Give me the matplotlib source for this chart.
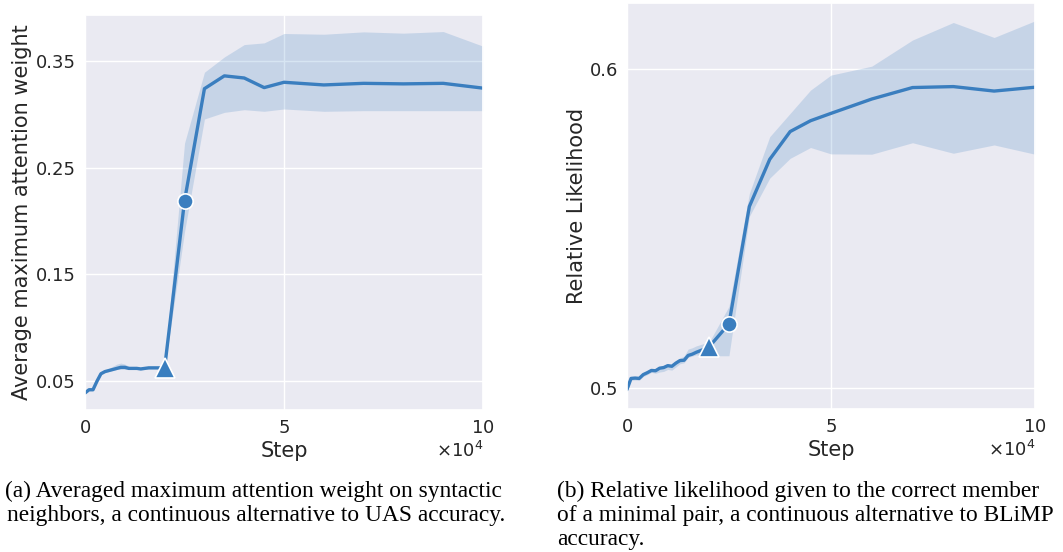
import matplotlib
matplotlib.use("Agg")
import matplotlib.pyplot as plt
import seaborn as sns

sns.set_theme(style="darkgrid")
plt.rcParams["font.family"] = ["DejaVu Sans"]

# training steps (shared by both panels)
steps = [0, 1000, 2000, 3000, 4000, 5000, 6000, 7000, 8000, 9000, 10000,
         11000, 12000, 13000, 14000, 15000, 16000, 17000, 18000, 19000, 20000,
         25000, 30000, 35000, 40000, 45000, 50000,
         60000, 70000, 80000, 90000, 100000]

# (a) average maximum attention weight
attn_mean = [0.039, 0.042, 0.042, 0.050, 0.057, 0.059, 0.060, 0.061, 0.062, 0.063, 0.063,
             0.062, 0.062, 0.062, 0.0615, 0.062, 0.0625, 0.0625, 0.0625, 0.0625, 0.0625,
             0.219, 0.324, 0.336, 0.334, 0.325, 0.330,
             0.3275, 0.329, 0.3285, 0.329, 0.3245]
attn_lo = [0.038, 0.041, 0.041, 0.049, 0.056, 0.058, 0.059, 0.060, 0.061, 0.061, 0.061,
           0.061, 0.061, 0.061, 0.0605, 0.061, 0.0615, 0.0615, 0.0615, 0.0615, 0.0615,
           0.190, 0.2956, 0.3018, 0.3043, 0.3028, 0.305,
           0.3028, 0.3034, 0.3034, 0.3034, 0.3034]
attn_hi = [0.040, 0.043, 0.043, 0.051, 0.058, 0.060, 0.062, 0.064, 0.066, 0.067, 0.066,
           0.064, 0.063, 0.063, 0.0625, 0.063, 0.0635, 0.0635, 0.0635, 0.0635, 0.0635,
           0.273, 0.3394, 0.3537, 0.3653, 0.3669, 0.3757,
           0.375, 0.3772, 0.376, 0.3775, 0.3638]

# (b) relative likelihood of the correct member of a minimal pair
rel_mean = [0.4995, 0.5030, 0.5031, 0.5030, 0.5042, 0.5048, 0.5055, 0.5054, 0.5062, 0.5064, 0.5070,
            0.5068, 0.5078, 0.5086, 0.5087, 0.5102, 0.5106, 0.5112, 0.5117, 0.5122, 0.5127,
            0.5201, 0.5569, 0.5717, 0.5804, 0.5838, 0.5861,
            0.5906, 0.5942, 0.5945, 0.5931, 0.5943]
rel_lo = [0.4990, 0.5024, 0.5025, 0.5024, 0.5036, 0.5042, 0.5049, 0.5046, 0.5050, 0.5052, 0.5058,
          0.5056, 0.5066, 0.5076, 0.5079, 0.5096, 0.5100, 0.5104, 0.5101, 0.5101, 0.5101,
          0.5101, 0.5538, 0.5658, 0.572, 0.5754, 0.5734,
          0.5733, 0.5769, 0.5736, 0.5762, 0.5733]
rel_hi = [0.5000, 0.5036, 0.5037, 0.5036, 0.5048, 0.5054, 0.5061, 0.5060, 0.5068, 0.5070, 0.5076,
          0.5074, 0.5084, 0.5094, 0.5100, 0.5122, 0.5126, 0.5132, 0.5136, 0.5140, 0.5140,
          0.5256, 0.561, 0.5788, 0.5861, 0.5934, 0.5981,
          0.6009, 0.6091, 0.6146, 0.6099, 0.6151]

tri_step = 20000
dot_step = 25000

color = "#3a7ebf"

fig = plt.figure(figsize=(10.63, 5.52), dpi=100)
ax1 = fig.add_axes([0.0800, 0.2572, 0.3744, 0.7156])
ax2 = fig.add_axes([0.5898, 0.2590, 0.3838, 0.7355])


def draw(ax, mean, lo, hi, ylabel, yticks, ylim, ylabelpad):
    ax.fill_between(steps, lo, hi, color=color, alpha=0.2, linewidth=0)
    ax.plot(steps, mean, color=color, linewidth=2.4)
    i_tri = steps.index(tri_step)
    i_dot = steps.index(dot_step)
    ax.plot(steps[i_tri], mean[i_tri], marker="^", markersize=14, color=color,
            markeredgecolor="white", markeredgewidth=1.2, linestyle="none")
    ax.plot(steps[i_dot], mean[i_dot], marker="o", markersize=11, color=color,
            markeredgecolor="white", markeredgewidth=1.2, linestyle="none")
    ax.set_xlim(0, 100000)
    ax.set_xticks([0, 50000, 100000])
    ax.set_ylim(*ylim)
    ax.set_yticks(yticks)
    ax.ticklabel_format(axis="x", style="sci", scilimits=(4, 4), useMathText=True)
    ax.xaxis.get_offset_text().set_fontsize(13)
    ax.tick_params(axis="x", labelsize=13, length=0, pad=6.5)
    ax.tick_params(axis="y", labelsize=13, length=0, pad=6.5)
    ax.set_xlabel("Step", fontsize=15, labelpad=3)
    ax.set_ylabel(ylabel, fontsize=15, labelpad=ylabelpad)


draw(ax1, attn_mean, attn_lo, attn_hi, "Average maximum attention weight",
     [0.05, 0.15, 0.25, 0.35], (0.023, 0.393), 3)
ax1.set_yticklabels(["0.05", "0.15", "0.25", "0.35"])
draw(ax2, rel_mean, rel_lo, rel_hi, "Relative Likelihood",
     [0.5, 0.6], (0.4934, 0.6207), 1.7)

cap = dict(fontsize=16.8, family="Liberation Serif", ha="left", va="center", color="black")
fig.text(5 / 1063, 1 - 491 / 552, "(a) Averaged maximum attention weight on syntactic", **cap)
fig.text(7 / 1063, 1 - 516 / 552, "neighbors, a continuous alternative to UAS accuracy.", **cap)
fig.text(557 / 1063, 1 - 491 / 552, "(b) Relative likelihood given to the correct member", **cap)
fig.text(557 / 1063, 1 - 516 / 552, "of a minimal pair, a continuous alternative to BLiMP", **cap)
fig.text(557 / 1063, 1 - 540 / 552, "accuracy.", **cap)

fig.savefig("out.png", dpi=100)
